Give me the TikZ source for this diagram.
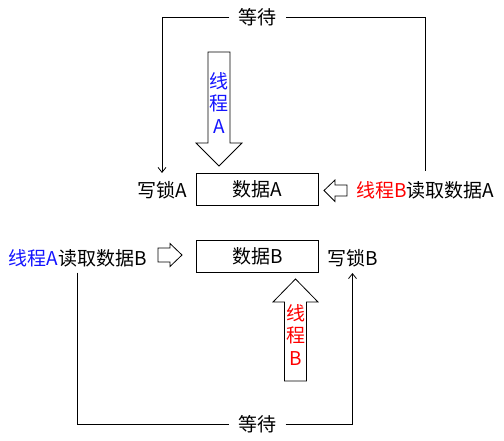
\documentclass[tikz,border=0pt]{standalone}
\usepackage{fontspec}
\setmainfont{Noto Sans CJK SC}
\usetikzlibrary{arrows.meta}
\definecolor{tblue}{RGB}{20,20,255}
\definecolor{tred}{RGB}{255,0,0}
\begin{document}
\begin{tikzpicture}[x=1pt,y=-1pt,
  lbl/.style={inner sep=0pt, font=\fontsize{19}{22}\selectfont},
  waitlbl/.style={lbl, inner xsep=9pt},
  databox/.style={draw, line width=0.8pt, minimum width=122pt, minimum height=32pt, inner sep=0pt, font=\fontsize{19}{22}\selectfont},
  conn/.style={line width=0.8pt},
  tip/.style={-{Straight Barb[length=5pt,width=8pt]}},
  blockarrow/.style={draw, fill=white, line width=0.8pt, line join=miter},
  vtext/.style={inner sep=0pt, align=center, font=\fontsize{19}{22.5}\selectfont}]
\useasboundingbox (0,0) rectangle (504,441);

% boxes
\node[databox] (dA) at (257,189) {数据A};
\node[databox] (dB) at (257.5,256) {数据B};

% labels
\node[lbl] (lockA) at (162,190) {写锁A};
\node[lbl] (readBA) at (425.5,190) {\textcolor{tred}{线程B}读取数据A};
\node[lbl] (readAB) at (77.5,258) {\textcolor{tblue}{线程A}读取数据B};
\node[lbl] (lockB) at (352.5,258) {写锁B};
\node[waitlbl] (waitA) at (257.5,17) {等待};
\node[waitlbl] (waitB) at (257.5,424) {等待};

% block arrows
\draw[blockarrow] (208,52) -- (230,52) -- (230,143) -- (242,143) -- (219,166) -- (196,143) -- (208,143) -- cycle;
\draw[blockarrow] (284.5,381) -- (284.5,302) -- (273,302) -- (295.5,279) -- (318,302) -- (306.5,302) -- (306.5,381) -- cycle;
\node[vtext, text=tblue] (tA) at (219,103) {线\\程\\A};
\node[vtext, text=tred] (tB) at (295.5,335) {线\\程\\B};

% small hollow arrows
\draw[blockarrow] (347,185) -- (335,185) -- (335,180) -- (324,190.5) -- (335,201.5) -- (335,196) -- (347,196) -- cycle;
\draw[blockarrow] (158,248) -- (170,248) -- (170,243.5) -- (182,255) -- (170,266.5) -- (170,262) -- (158,262) -- cycle;

% connectors
\draw[conn] ([yshift=10pt]readBA.north) |- (waitA.east);
\draw[conn,tip] (waitA.west) -| ([yshift=8pt]lockA.north);
\draw[conn] ([yshift=-5.5pt]readAB.south) |- (waitB.west);
\draw[conn,tip] (waitB.east) -| ([yshift=-6pt]lockB.south);
\end{tikzpicture}
\end{document}
